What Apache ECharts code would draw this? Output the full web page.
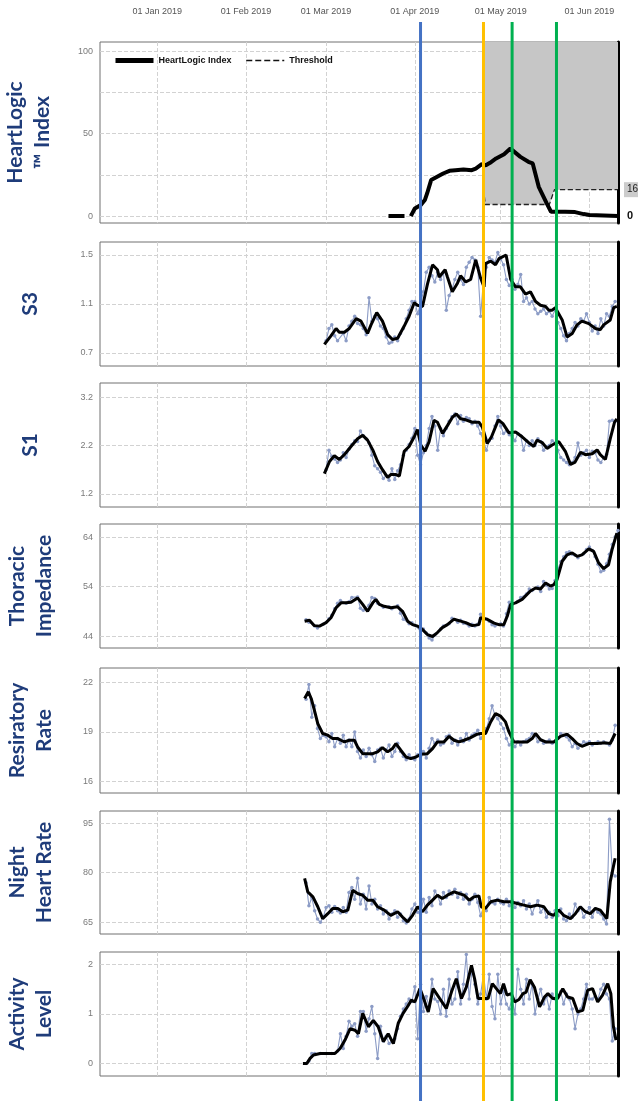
<!DOCTYPE html>
<html>
<head>
<meta charset="utf-8">
<title>HeartLogic trends</title>
<script src="https://cdn.jsdelivr.net/npm/echarts@6/dist/echarts.min.js"></script>
<style>
  html, body { margin: 0; padding: 0; background: #fff; }
  #chart { width: 638px; height: 1101px; }
</style>
</head>
<body>
<div id="chart"></div>
<script>
// x is days since 01 Jan 2019
var xMin = -20, xMax = 161;
var monthDays = [0, 31, 59, 90, 120, 151];
var monthLabels = ['01 Jan 2019', '01 Feb 2019', '01 Mar 2019', '01 Apr 2019', '01 May 2019', '01 Jun 2019'];

// clinical events (vertical markers)
var eventDays = [92, 114, 124, 139.5];

// HeartLogic index and alert threshold
var hlIndex = [[80.8,0],[86.4,0],[87.5,null],[88.6,0],[90,4.6],[92.1,6.7],[93.5,9.7],[94.3,13.7],[95.7,21.8],[97.8,23.8],[99.9,25.8],[102.1,27.4],[104.2,27.8],[107,28.2],[109.9,27.8],[111.3,28.8],[113.4,31.5],[114.8,30.8],[116.3,32.3],[118.4,34.9],[121.2,37.5],[123.4,40.9],[124.8,38.9],[126.9,35.9],[129.7,32.9],[131.2,31.9],[133.3,17.7],[136.1,7.7],[137.6,2.6],[142.5,2.6],[146,2.4],[149,1.2],[151,0.6],[161,0]];
var hlThreshold = [[114.3,12],[114.6,7],[137,7],[138.8,16],[161,16]];
var hlLabelTicks = [0, 50, 100];
var hlGridTicks = [0, 25, 50, 75, 100];

// S3
var s3Ticks = [0.7, 1.1, 1.5];
var s3Trend = [[58.4,0.77],[60.7,0.84],[62.5,0.90],[63.6,0.87],[65.4,0.87],[67.1,0.90],[69.5,0.98],[71.2,0.96],[73.5,0.86],[74.7,0.93],[76.7,1.03],[78.7,0.96],[80.5,0.85],[82.2,0.81],[84.0,0.82],[86.3,0.92],[88.0,1.00],[89.8,1.11],[90.9,1.09],[92.7,1.08],[94.4,1.26],[96.2,1.42],[97.9,1.38],[98.5,1.32],[100.6,1.38],[101.4,1.32],[103.1,1.20],[104.9,1.27],[106.0,1.33],[107.8,1.28],[109.5,1.30],[111.3,1.46],[113.0,1.31],[114.2,1.24],[114.7,1.43],[116.5,1.45],[118.2,1.42],[119.4,1.47],[121.9,1.50],[123.5,1.30],[125.2,1.24],[126.9,1.24],[128.7,1.18],[130.4,1.20],[132.2,1.12],[133.9,1.09],[135.7,1.08],[136.8,1.05],[138.0,1.05],[139.1,1.07],[141.5,0.97],[143.2,0.83],[145.0,0.86],[146.7,0.93],[148.4,0.96],[150.8,0.94],[153.1,0.90],[154.8,0.89],[156.0,0.93],[158.3,0.97],[159.5,1.07],[160.6,1.08]];
var s3Raw = [[59,0.80],[60,0.90],[61,0.93],[62,0.84],[63,0.80],[65,0.86],[66,0.80],[67,0.92],[68,0.96],[69,1.00],[70,0.94],[71,0.93],[72,0.90],[73,0.85],[74,1.15],[75,0.96],[76,1.00],[77,0.98],[78,0.92],[79,0.90],[80,0.83],[81,0.78],[82,0.79],[83,0.83],[84,0.80],[85,0.86],[86,0.90],[87,0.98],[88,1.05],[89,1.12],[90,1.12],[91,1.02],[92,1.10],[93,1.20],[94,1.36],[95,1.40],[96,1.33],[97,1.28],[98,1.36],[99,1.30],[100,1.36],[101,1.05],[102,1.17],[103,1.22],[104,1.30],[105,1.36],[106,1.30],[107,1.26],[108,1.40],[109,1.44],[110,1.48],[111,1.46],[112,1.40],[113,1.00],[114,1.30],[115,1.40],[116,1.48],[117,1.46],[118,1.44],[119,1.52],[120,1.47],[121,1.42],[122,1.30],[123,1.25],[124,1.30],[125,1.22],[126,1.26],[127,1.34],[128,1.12],[129,1.15],[130,1.10],[131,1.12],[132,1.06],[133,1.02],[134,1.04],[135,1.06],[136,1.02],[137,1.04],[138,1.00],[139,1.05],[140,0.95],[141,0.90],[142,0.84],[143,0.80],[144,0.86],[145,0.90],[146,0.95],[147,0.92],[148,0.98],[149,0.96],[150,1.02],[151,0.95],[152,0.88],[153,0.92],[154,0.86],[155,0.98],[156,0.92],[157,1.02],[158,1.00],[159,1.08],[160,1.12]];

// S1
var s1Ticks = [1.2, 2.2, 3.2];
var s1Trend = [[58.4,1.62],[60.2,1.87],[61.9,1.99],[63.6,1.91],[65.4,2.01],[67.7,2.18],[70.0,2.34],[71.8,2.41],[73.5,2.31],[75.3,2.11],[77.0,1.87],[78.7,1.70],[80.5,1.54],[81.6,1.60],[83.4,1.60],[84.6,1.57],[86.3,2.08],[88.0,2.18],[89.8,2.38],[90.9,2.53],[92.1,2.21],[93.6,2.08],[95.0,2.28],[96.7,2.72],[97.9,2.68],[99.7,2.45],[101.4,2.61],[103.1,2.78],[104.5,2.85],[106.0,2.75],[107.8,2.73],[110.1,2.68],[112.4,2.68],[113.6,2.58],[115.3,2.24],[116.8,2.38],[119.2,2.73],[120.8,2.65],[122.9,2.46],[125.2,2.48],[127.5,2.38],[129.8,2.26],[131.6,2.18],[132.7,2.31],[134.5,2.26],[136.2,2.14],[138.0,2.21],[140.3,2.28],[142.6,2.08],[144.4,1.81],[145.9,1.85],[147.9,2.06],[149.6,2.01],[152.0,2.03],[153.7,2.11],[154.8,2.01],[156.6,1.91],[158.3,2.34],[159.8,2.68],[160.6,2.75]];
var s1Raw = [[59,1.70],[60,2.10],[61,1.98],[62,1.92],[63,1.85],[64,1.90],[65,2.05],[66,1.95],[67,2.12],[68,2.22],[69,2.30],[70,2.28],[71,2.50],[72,2.40],[73,2.34],[74,2.25],[75,2.00],[76,1.78],[77,1.72],[78,1.65],[79,1.52],[80,1.58],[81,1.48],[82,1.72],[83,1.50],[84,1.68],[85,1.80],[86,2.00],[87,2.10],[88,2.22],[89,2.35],[90,2.55],[91,2.00],[92,1.80],[93,2.05],[94,2.20],[95,2.55],[96,2.80],[97,2.60],[98,2.10],[99,2.55],[100,2.40],[101,2.55],[102,2.70],[103,2.80],[104,2.85],[105,2.65],[106,2.82],[107,2.70],[108,2.78],[109,2.75],[110,2.65],[111,2.70],[112,2.60],[113,2.45],[114,2.30],[115,2.10],[116,2.30],[117,2.35],[118,2.60],[119,2.80],[120,2.60],[121,2.45],[122,2.50],[123,2.42],[124,2.40],[125,2.30],[126,2.45],[127,2.40],[128,2.10],[129,2.30],[130,2.20],[131,2.30],[132,2.20],[133,2.34],[134,2.28],[135,2.10],[136,2.18],[137,2.20],[138,2.30],[139,2.25],[140,2.10],[141,1.95],[142,1.90],[143,1.85],[144,1.80],[145,1.85],[146,1.95],[147,2.25],[148,2.00],[149,2.05],[150,2.10],[151,1.95],[152,2.08],[153,2.05],[154,1.90],[155,1.85],[156,1.95],[157,2.02],[158,2.70],[159,2.72],[160,2.70]];

// Thoracic impedance
var thorTicks = [44, 54, 64];
var thorTrend = [[51.5,47.0],[53.2,47.2],[54.9,46.1],[56.7,46.0],[59,46.7],[60.7,47.7],[62.5,49.7],[64.2,50.7],[66.0,50.7],[67.7,50.8],[70.0,51.7],[71.8,50.4],[73.5,49.0],[75.3,50.7],[76.4,51.4],[77.6,50.4],[79.3,50.0],[81.6,49.7],[84.0,49.9],[85.7,49.0],[87.5,47.0],[89.2,46.3],[91.0,46.0],[92.7,45.3],[94.4,44.3],[96.2,43.9],[97.9,44.7],[99.6,45.7],[101.4,46.3],[103.7,47.4],[106.0,47.0],[107.8,46.7],[110.1,46.1],[112.4,46.3],[113.0,47.7],[113.6,48.0],[115.3,47.4],[117.7,46.6],[119.4,46.3],[121.1,46.3],[122.3,48.0],[123.5,50.4],[125.2,50.7],[127.5,51.4],[130.4,53.1],[132.2,53.7],[133.9,53.5],[135.7,54.7],[137.4,54.1],[138.6,54.4],[139.7,55.4],[141.5,59.1],[143.2,60.4],[145.0,60.8],[146.7,60.1],[148.4,60.4],[150.8,61.6],[152.5,61.1],[154.2,58.8],[156.0,57.6],[157.7,58.4],[158.9,61.4],[160.6,64.8]];
var thorRaw = [[52,47.3],[53,46.8],[55,46.0],[56,45.6],[58,46.4],[60,47.5],[61,48.2],[62,49.5],[63,50.6],[64,51.2],[66,50.6],[67,50.9],[68,51.8],[70,51.9],[71,49.6],[72,49.2],[74,50.2],[75,51.8],[76,51.6],[77,50.6],[79,49.8],[81,49.9],[82,49.5],[84,50.1],[85,48.6],[86,47.4],[88,46.5],[89,46.7],[90,46.2],[92,45.0],[93,45.4],[94,44.6],[95,43.6],[96,43.2],[97,44.2],[99,45.4],[100,46.0],[102,46.5],[103,47.6],[105,46.8],[106,47.2],[107,46.6],[109,46.0],[110,46.4],[111,46.0],[112,46.4],[113,48.4],[114,47.6],[116,47.0],[117,46.3],[118,46.0],[120,46.5],[121,46.0],[122,48.5],[123,50.8],[124,50.3],[126,51.0],[127,51.8],[129,52.5],[130,53.5],[131,53.2],[133,53.9],[134,53.0],[135,55.0],[136,54.3],[137,53.5],[138,53.6],[139,55.2],[140,57.5],[141,59.0],[142,60.0],[143,60.8],[144,61.0],[145,60.5],[146,60.3],[147,59.8],[149,60.6],[150,61.5],[151,62.0],[152,61.3],[153,60.0],[154,58.5],[155,57.0],[156,57.3],[157,58.6],[158,60.5],[159,62.5],[160,64.0],[161,65.3]];

// Respiratory rate
var respTicks = [16, 19, 22];
var respTrend = [[51.5,21.04],[52.8,21.45],[53.8,21.04],[54.9,20.33],[56.1,19.51],[57.8,18.90],[59.6,18.80],[61.3,18.59],[63.1,18.59],[64.2,18.49],[65.4,18.39],[67.1,18.49],[68.9,18.49],[70.0,18.08],[71.8,17.67],[73.5,17.67],[75.3,17.67],[77.0,17.78],[78.7,18.04],[80.5,17.78],[82.2,17.98],[83.4,18.29],[85.1,17.88],[86.9,17.47],[88.6,17.37],[90.4,17.47],[92.1,17.63],[94.4,17.67],[96.2,17.98],[97.9,18.39],[100.2,18.39],[102.0,18.73],[103.7,18.49],[105.5,18.39],[107.2,18.49],[109.5,18.65],[111.8,18.86],[113.0,18.90],[114.7,18.90],[116.5,19.61],[118.2,20.12],[120.0,19.96],[121.7,19.61],[122.9,19.00],[124.6,18.39],[126.9,18.39],[129.3,18.39],[131.0,18.59],[132.2,18.90],[133.9,18.53],[135.7,18.39],[138.6,18.39],[140.9,18.73],[143.2,18.86],[145.0,18.59],[146.7,18.29],[148.4,18.12],[150.8,18.29],[153.7,18.29],[156.6,18.33],[158.3,18.29],[160.0,18.90]];
var respRaw = [[52,21.0],[53,21.9],[54,19.9],[55,20.6],[56,19.2],[57,18.6],[58,18.8],[59,18.7],[60,18.4],[61,18.9],[62,18.1],[63,18.6],[64,18.3],[65,18.8],[66,18.1],[67,18.5],[68,18.1],[69,19.0],[70,17.8],[71,17.4],[72,17.9],[73,17.5],[74,18.0],[75,17.6],[76,17.2],[77,17.9],[78,18.0],[79,17.4],[80,17.9],[81,18.2],[82,17.5],[83,17.8],[84,18.3],[85,17.8],[86,17.5],[87,17.3],[88,17.6],[89,17.4],[90,17.3],[91,17.6],[92,17.5],[93,17.8],[94,17.4],[95,18.0],[96,18.6],[97,18.3],[98,18.5],[99,18.2],[100,18.3],[101,18.7],[102,18.8],[103,18.3],[104,18.5],[105,18.2],[106,18.6],[107,18.4],[108,18.9],[109,18.5],[110,18.8],[111,18.9],[112,19.1],[113,18.6],[114,18.9],[115,19.2],[116,19.8],[117,20.6],[118,20.0],[119,19.8],[120,19.5],[121,19.2],[122,18.6],[123,18.2],[124,18.4],[125,18.1],[126,18.4],[127,18.2],[128,18.4],[129,18.5],[130,18.6],[131,18.9],[132,18.8],[133,18.4],[134,18.5],[135,18.3],[136,18.4],[137,18.5],[138,18.3],[139,18.4],[140,18.6],[141,18.9],[142,18.8],[143,18.7],[144,18.5],[145,18.1],[146,18.3],[147,18.0],[148,18.2],[149,18.4],[150,18.3],[151,18.4],[152,18.2],[153,18.3],[154,18.4],[155,18.3],[156,18.4],[157,18.3],[158,18.2],[159,18.5],[160,19.4]];

// Night heart rate
var nhrTicks = [65, 80, 95];
var nhrTrend = [[51.5,78.3],[52.6,74.2],[54.4,72.7],[56.1,69.7],[57.8,66.1],[59.6,67.6],[61.3,69.2],[63.1,69.2],[64.8,68.2],[66.6,68.7],[68.3,74.7],[70.0,73.7],[71.8,73.2],[73.5,71.7],[75.3,71.7],[77.0,69.7],[79.3,68.7],[81.6,67.1],[84.0,68.2],[85.7,66.6],[87.5,65.1],[89.2,67.1],[91.0,69.7],[92.7,68.2],[94.4,70.2],[96.2,71.7],[97.9,73.2],[99.6,72.2],[101.4,73.2],[103.7,74.2],[105.5,73.7],[107.2,73.2],[109.0,71.7],[110.7,72.7],[112.4,73.0],[113.2,69.7],[114.7,69.2],[116.5,71.2],[118.8,71.7],[121.1,71.2],[123.5,71.2],[125.8,70.7],[128.1,70.2],[130.4,69.7],[132.8,70.2],[135.1,69.7],[136.8,67.6],[138.6,67.1],[140.3,68.7],[142.0,67.1],[144.4,66.1],[146.1,67.6],[147.8,69.7],[149.6,68.2],[151.3,67.6],[153.1,69.2],[154.8,68.7],[157.1,66.1],[158.3,77.3],[160.0,84.4]];
var nhrRaw = [[52,77.0],[53,70.0],[54,72.5],[55,68.5],[56,66.0],[57,65.0],[58,66.5],[59,69.5],[60,70.0],[61,68.0],[62,69.8],[63,68.5],[64,67.8],[65,69.5],[66,68.0],[67,74.0],[68,75.5],[69,72.0],[70,78.3],[71,70.5],[72,73.5],[73,69.0],[74,76.0],[75,70.5],[76,72.0],[77,69.0],[78,70.0],[79,67.5],[80,68.5],[81,66.0],[82,67.5],[83,68.5],[84,66.5],[85,67.5],[86,65.5],[87,64.8],[88,66.0],[89,69.0],[90,70.5],[91,68.0],[92,67.5],[93,72.0],[94,68.0],[95,72.5],[96,70.0],[97,74.5],[98,73.0],[99,70.5],[100,74.0],[101,72.5],[102,74.5],[103,73.5],[104,75.0],[105,72.5],[106,74.0],[107,72.0],[108,73.5],[109,70.5],[110,72.0],[111,73.5],[112,71.0],[113,67.0],[114,69.5],[115,68.5],[116,72.5],[117,71.0],[118,70.5],[119,72.0],[120,71.0],[121,70.5],[122,72.0],[123,70.0],[124,71.5],[125,69.5],[126,71.0],[127,70.0],[128,71.5],[129,69.0],[130,70.5],[131,67.5],[132,70.0],[133,71.5],[134,68.0],[135,69.5],[136,66.5],[137,68.0],[138,66.5],[139,68.5],[140,67.0],[141,69.0],[142,66.0],[143,65.5],[144,67.5],[145,66.5],[146,70.5],[147,68.5],[148,69.5],[149,66.5],[150,68.0],[151,69.5],[152,66.5],[153,69.0],[154,68.0],[155,67.5],[156,66.0],[157,64.5],[158,96.2],[159,80.0],[160,79.0]];

// Activity level
var actTicks = [0, 1, 2];
var actTrend = [[50.9,0.0],[52.3,0.0],[53.4,0.10],[54.6,0.17],[56.9,0.20],[62.1,0.20],[63.9,0.30],[65.6,0.47],[67.4,0.70],[69.1,0.67],[70.3,0.60],[71.8,1.01],[73.8,0.74],[75.5,0.87],[77.2,0.74],[79.0,0.44],[80.7,0.60],[82.5,0.40],[84.2,0.81],[85.9,1.01],[87.7,1.17],[88.8,1.28],[90.0,1.24],[91.8,1.51],[92.9,1.34],[94.7,1.04],[96.4,1.51],[98.7,1.31],[101.0,1.11],[102.8,1.44],[104.5,1.71],[106.3,1.31],[108.0,1.54],[109.8,1.98],[110.9,1.71],[112.1,1.31],[113.8,1.31],[115.6,1.31],[117.1,1.61],[118.5,1.51],[119.9,1.41],[121.0,1.61],[122.2,1.38],[123.7,1.41],[124.9,1.24],[126.4,1.29],[127.8,1.41],[128.9,1.44],[130.3,1.69],[131.8,1.54],[133.6,1.14],[135.3,1.34],[136.5,1.41],[138.2,1.31],[139.9,1.31],[141.7,1.51],[143.4,1.34],[145.2,1.31],[146.9,1.04],[148.7,1.07],[150.4,1.48],[152.1,1.51],[153.9,1.24],[155.6,1.38],[157.4,1.61],[158.5,1.41],[159.4,0.74],[160.3,0.47]];
var actRaw = [[52,0.0],[53,0.05],[54,0.2],[55,0.2],[57,0.2],[59,0.2],[61,0.2],[63,0.25],[64,0.6],[65,0.3],[66,0.55],[67,0.85],[68,0.75],[69,0.8],[70,0.55],[71,1.05],[72,1.05],[73,0.65],[74,0.9],[75,1.15],[76,0.6],[77,0.1],[78,0.75],[79,0.45],[80,0.55],[81,0.4],[82,0.45],[83,0.5],[84,0.7],[85,0.95],[86,1.1],[87,1.2],[88,1.3],[89,1.25],[90,1.55],[91,0.5],[92,1.6],[93,1.05],[94,1.35],[95,1.15],[96,1.7],[97,1.3],[98,1.25],[99,1.0],[100,1.5],[101,0.95],[102,1.7],[103,1.2],[104,1.3],[105,1.85],[106,1.2],[107,1.6],[108,2.2],[109,1.3],[110,1.9],[111,1.6],[112,1.2],[113,1.4],[114,1.8],[115,1.3],[116,1.8],[117,1.15],[118,0.9],[119,1.8],[120,1.2],[121,1.45],[122,1.2],[123,1.1],[124,1.3],[125,1.0],[126,1.9],[127,1.5],[128,1.2],[129,1.7],[130,1.3],[131,1.6],[132,1.0],[133,1.3],[134,1.5],[135,1.2],[136,1.35],[137,1.1],[138,1.4],[139,1.3],[140,1.35],[141,1.45],[142,1.2],[143,1.4],[144,1.3],[145,1.1],[146,0.7],[147,1.0],[148,1.1],[149,1.3],[150,1.6],[151,1.3],[152,1.3],[153,1.35],[154,1.3],[155,1.5],[156,1.6],[157,1.4],[158,1.3],[159,0.45],[160,0.7]];

var chart = echarts.init(document.getElementById('chart'));

var nameColor = '#1f3c7a';
var gridLine = {show: true, lineStyle: {color: '#d2d2d2', type: 'dashed', width: 1}};
var rawColor = '#8c9cc6';

var panels = [
  {name: 'HeartLogic\n\u2122 Index', top: 42, height: 181, min: -4.2, max: 105.5, labels: hlLabelTicks, splits: hlGridTicks, gap: 44},
  {name: 'S3', top: 242, height: 124, min: 0.594, max: 1.606, labels: s3Ticks, gap: 56, raw: s3Raw, trend: s3Trend},
  {name: 'S1', top: 383, height: 124, min: 0.93, max: 3.49, labels: s1Ticks, gap: 56, raw: s1Raw, trend: s1Trend},
  {name: 'Thoracic\nImpedance', top: 524, height: 124, min: 41.58, max: 66.63, labels: thorTicks, gap: 42, raw: thorRaw, trend: thorTrend},
  {name: 'Resiratory\nRate', top: 668, height: 125, min: 15.27, max: 22.9, labels: respTicks, gap: 42, raw: respRaw, trend: respTrend},
  {name: 'Night\nHeart Rate', top: 811, height: 123, min: 61.45, max: 98.7, labels: nhrTicks, gap: 42, raw: nhrRaw, trend: nhrTrend},
  {name: 'Activity\nLevel', top: 952, height: 124, min: -0.255, max: 2.25, labels: actTicks, gap: 42, raw: actRaw, trend: actTrend}
];

var grids = [], xAxes = [], yAxes = [], series = [];

panels.forEach(function (p, i) {
  grids.push({left: 100, right: 20, top: p.top, height: p.height, show: true, outerBoundsMode: 'none',
    borderColor: '#707070', borderWidth: 1, backgroundColor: '#fff'});
  xAxes.push({gridIndex: i, type: 'value', min: xMin, max: xMax,
    axisLine: {show: false, onZero: false},
    axisTick: {show: false, customValues: monthDays},
    axisLabel: {show: false},
    splitLine: gridLine});
  yAxes.push({gridIndex: i, type: 'value', min: p.min, max: p.max,
    name: p.name, nameLocation: 'middle', nameRotate: 90, nameGap: p.gap,
    nameTextStyle: {color: nameColor, fontSize: 21, fontWeight: 'bold', fontFamily: 'Lato', lineHeight: 27},
    axisLine: {show: false, onZero: false},
    axisTick: {show: false, customValues: p.splits || p.labels},
    axisLabel: {customValues: p.labels, fontSize: 9, color: '#7a7a7a', margin: 7, fontFamily: 'Liberation Sans'},
    splitLine: gridLine});
  // heavy right edge of each panel
  yAxes.push({gridIndex: i, type: 'value', position: 'right', min: p.min, max: p.max,
    axisLine: {show: true, onZero: false, lineStyle: {color: '#000', width: 3}},
    axisTick: {show: false}, axisLabel: {show: false}, splitLine: {show: false}});
  if (p.raw) {
    series.push({type: 'line', xAxisIndex: i, yAxisIndex: i * 2, data: p.raw,
      symbol: 'circle', symbolSize: 3.5, showSymbol: true,
      lineStyle: {color: rawColor, width: 1.1}, itemStyle: {color: rawColor}, z: 2, silent: true});
    series.push({type: 'line', xAxisIndex: i, yAxisIndex: i * 2, data: p.trend,
      symbol: 'none', lineStyle: {color: '#000', width: 3}, z: 3, silent: true});
  }
});

// HeartLogic panel series
series.push({name: 'Threshold', type: 'line', xAxisIndex: 0, yAxisIndex: 0, data: hlThreshold,
  symbol: 'none', lineStyle: {color: '#222', width: 1.3, type: 'dashed'},
  itemStyle: {color: '#222'},
  areaStyle: {origin: 'end', color: '#c6c6c6', opacity: 1},
  endLabel: {show: true, distance: 6, formatter: function (p) { return Math.round(p.value[1]); },
    backgroundColor: '#cccccc', padding: [3, 3, 2, 3], fontSize: 10, color: '#222', fontFamily: 'Liberation Sans'},
  z: 2, silent: true});
series.push({name: 'HeartLogic Index', type: 'line', xAxisIndex: 0, yAxisIndex: 0, data: hlIndex,
  symbol: 'none', connectNulls: false, lineStyle: {color: '#000', width: 4}, itemStyle: {color: '#000'},
  endLabel: {show: true, distance: 9, formatter: function (p) { return Math.round(p.value[1]); },
    fontSize: 11, fontWeight: 'bold', color: '#111', fontFamily: 'Liberation Sans'},
  z: 3, silent: true});

// overlay grid: month labels on top and event markers across all panels
var ov = panels.length;
grids.push({left: 100, right: 20, top: 22, bottom: 0, outerBoundsMode: 'none'});
xAxes.push({gridIndex: ov, type: 'value', position: 'top', min: xMin, max: xMax,
  axisLine: {show: false, onZero: false}, axisTick: {show: false},
  axisLabel: {customValues: monthDays, fontSize: 9, color: '#555', margin: 6, fontFamily: 'Liberation Sans',
    formatter: function (v) { return monthLabels[monthDays.indexOf(v)]; }},
  splitLine: {show: false}});
yAxes.push({gridIndex: ov, type: 'value', min: 0, max: 1, show: false});
var eventColors = ['#4472c4', '#ffc000', '#00b050', '#00b050'];
eventDays.forEach(function (d, k) {
  series.push({type: 'line', xAxisIndex: ov, yAxisIndex: yAxes.length - 1, data: [[d, 0], [d, 1]],
    symbol: 'none', lineStyle: {color: eventColors[k], width: 3}, z: 10, silent: true});
});

chart.setOption({
  animation: false,
  backgroundColor: '#fff',
  legend: {left: 108, top: 51, itemWidth: 38, itemHeight: 10, itemGap: 14,
    itemStyle: {color: 'rgba(0,0,0,0)', borderWidth: 0, opacity: 0},
    data: [
      {name: 'HeartLogic Index', lineStyle: {width: 5, color: '#000'}},
      {name: 'Threshold', lineStyle: {width: 1.5, type: 'dashed', color: '#111'}}
    ],
    textStyle: {fontSize: 9, fontWeight: 'bold', color: '#111', fontFamily: 'Liberation Sans'}},
  grid: grids,
  xAxis: xAxes,
  yAxis: yAxes,
  series: series
});
</script>
</body>
</html>
